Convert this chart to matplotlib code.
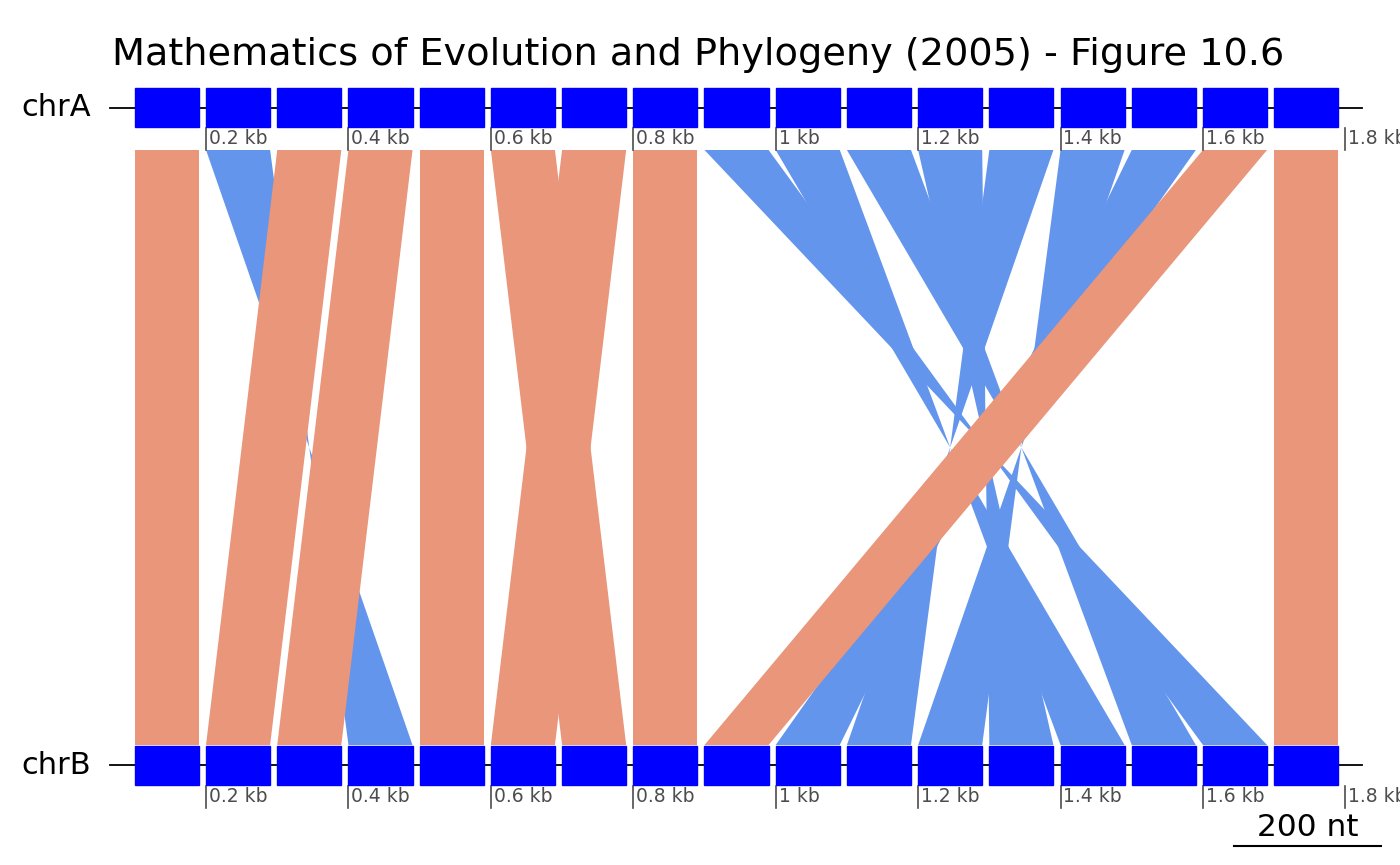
import matplotlib
matplotlib.use("Agg")
import matplotlib.pyplot as plt
from matplotlib.patches import Polygon, Rectangle

# --- data -------------------------------------------------------------
seq_ids = ["chrA", "chrB"]
gene_starts = [100, 200, 300, 400, 500, 600, 700, 800, 900,
               1000, 1100, 1200, 1300, 1400, 1500, 1600, 1700]
gene_ends = [190, 290, 390, 490, 590, 690, 790, 890, 990,
             1090, 1190, 1290, 1390, 1490, 1590, 1690, 1790]
link_from = [1, 2, 3, 4, 5, 6, 7, 8, 9, 10, 11, 12, 13, 14, 15, 16, 17]
link_to = [1, 4, 2, 3, 5, 7, 6, 8, 16, 14, 15, 13, 11, 12, 10, 9, 17]
link_strand = ["+", "-", "+", "+", "+", "+", "+", "+",
               "-", "-", "-", "-", "-", "-", "-", "+", "+"]
tick_kb = [0.2, 0.4, 0.6, 0.8, 1.0, 1.2, 1.4, 1.6, 1.8]
scale_nt = 200

GENE_COL = "#0000FF"
LINK_COL = {"+": "#E9967A", "-": "#6495ED"}
TICK_COL = "#4D4D4D"

# x in nt, y in pixel rows (figure is 1400 x 865 px)
PX_PER_NT = 0.7121
X0_PX = 63.6


def px2nt(px):
    return (px - X0_PX) / PX_PER_NT


fig = plt.figure(figsize=(14, 8.65), dpi=100)
ax = fig.add_axes([0, 0, 1, 1])
ax.set_xlim(px2nt(0), px2nt(1400))
ax.set_ylim(865, 0)
ax.axis("off")

track_y = {"chrA": 107.5, "chrB": 765}
box_h = 39
link_top, link_bot = 150, 745

# links: inverted ones first, so the direct ones sit on top
for strand_pass in ["-", "+"]:
    for a, b, s in zip(link_from, link_to, link_strand):
        if s != strand_pass:
            continue
        s1, e1 = gene_starts[a - 1], gene_ends[a - 1]
        s2, e2 = gene_starts[b - 1], gene_ends[b - 1]
        if s == "+":
            pts = [(s1, link_top), (e1, link_top), (e2, link_bot), (s2, link_bot)]
        else:
            pts = [(s1, link_top), (e1, link_top), (s2, link_bot), (e2, link_bot)]
        ax.add_patch(Polygon(pts, closed=True, facecolor=LINK_COL[s],
                             edgecolor="none", zorder=1))

# tracks, genes, position ticks
for sid in seq_ids:
    y = track_y[sid]
    ax.plot([px2nt(110), px2nt(1362)], [y, y], color="black", lw=1.3, zorder=2)
    for st, en in zip(gene_starts, gene_ends):
        ax.add_patch(Rectangle((st, y - box_h / 2), en - st, box_h,
                               facecolor=GENE_COL, edgecolor=GENE_COL,
                               lw=1.0, zorder=3))
    ax.text(px2nt(91), y, sid, ha="right", va="center", fontsize=22,
            color="black")
    ty0 = y + box_h / 2 + 1
    for kb in tick_kb:
        pos = kb * 1000
        ax.plot([pos, pos], [ty0, ty0 + 22], color=TICK_COL, lw=1.2, zorder=2)
        ax.text(pos + 4, ty0 + 11, f"{kb:g} kb", ha="left", va="center",
                fontsize=13.5, color=TICK_COL)

# scale bar
sb_x0 = px2nt(1234)
ax.plot([sb_x0, px2nt(1381)], [846, 846], color="black", lw=1.5)
ax.text(px2nt(1308), 828, f"{scale_nt} nt", ha="center",
        va="center", fontsize=22.5, color="black")

fig.text(112 / 1400, 1 - 55 / 865,
         "Mathematics of Evolution and Phylogeny (2005) - Figure 10.6",
         ha="left", va="center", fontsize=27.5, color="black")

fig.savefig("out.png", dpi=100)
